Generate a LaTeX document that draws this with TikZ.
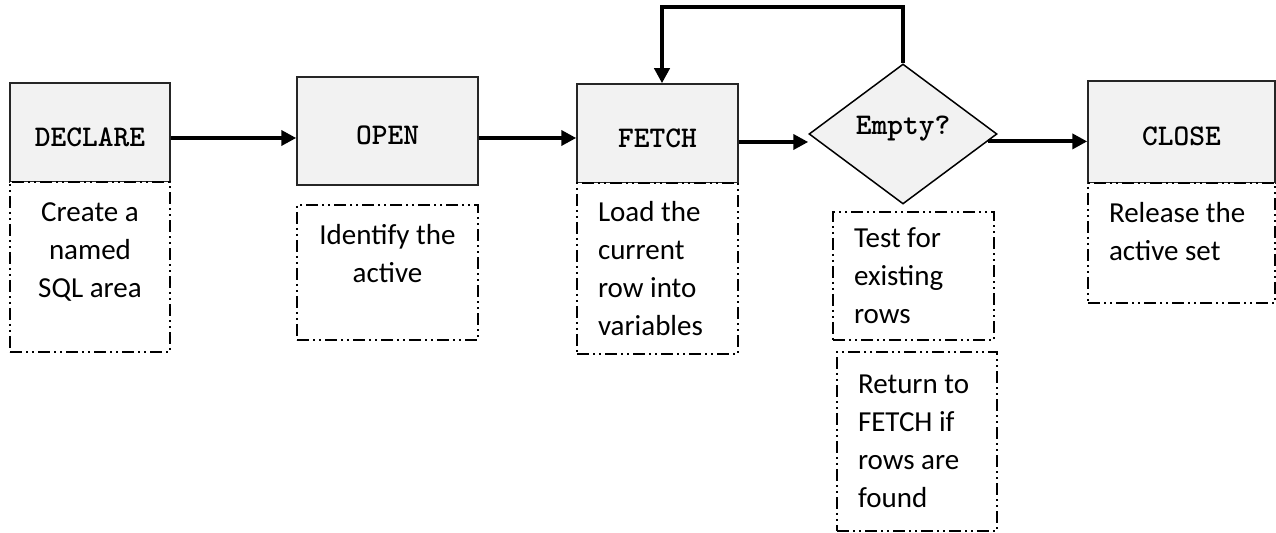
\documentclass[tikz,border=0pt]{standalone}
\usepackage{fontspec}
\setmainfont{Carlito}
\usetikzlibrary{arrows.meta,shapes.geometric}
\tikzset{
  titlebox/.style={draw=black!85, line width=0.75pt, fill=black!5, inner sep=0pt,
    font=\ttfamily\bfseries\fontsize{15}{17}\selectfont, text height=14pt, text depth=0pt},
  decision/.style={diamond, draw=black, line width=0.75pt, fill=black!5, inner sep=0pt,
    font=\ttfamily\bfseries\fontsize{15}{17}\selectfont, text depth=8.5pt},
  notebox/.style={draw=black, line width=0.8pt, fill=white, inner xsep=10.5pt, inner ysep=0pt,
    dash pattern=on 6pt off 2pt on 1pt off 2pt on 1pt off 2pt,
    font=\fontsize{14.5}{19}\selectfont},
  flow/.style={line width=2pt, -{Triangle[length=7.5pt,width=7.5pt]}}
}
\begin{document}
\begin{tikzpicture}[x=0.5pt,y=-0.5pt]
        \useasboundingbox (0,0) rectangle (1276,533);
        % steps
        \node[titlebox, minimum width=80pt, minimum height=49.5pt] (dec) at (90,132.5) {DECLARE};
        \node[titlebox, minimum width=90.5pt, minimum height=54pt] (open) at (387.5,131) {OPEN};
        \node[titlebox, minimum width=80.5pt, minimum height=49.5pt] (fetch) at (657.5,133.5) {FETCH};
        \node[decision, minimum width=94pt, minimum height=70pt] (empty) at (903,134) {Empty?};
        \node[titlebox, minimum width=93.5pt, minimum height=51pt] (close) at (1181.5,132) {CLOSE};
        % notes
        \node[notebox, minimum width=80pt, minimum height=85pt, text width=59pt, align=flush center] (decnote) at (90,267) {Create a\\named\\SQL area\\[-8pt]\strut};
        \node[notebox, minimum width=90.5pt, minimum height=67.5pt, text width=69.5pt, align=flush center] (opennote) at (387.5,272.5) {Identify the\\active\\[-6pt]\strut};
        \node[notebox, minimum width=80.5pt, minimum height=85.5pt, text width=59.5pt, align=flush left] (fetchnote) at (657.5,268.5) {Load the\\current\\row into\\variables};
        \node[notebox, minimum width=80.5pt, minimum height=64pt, text width=59.5pt, align=flush left] (testnote) at (913.5,276) {Test for\\existing\\rows};
        \node[notebox, minimum width=80pt, minimum height=89.5pt, text width=59pt, align=flush left] (returnnote) at (917,441.5) {Return to\\FETCH if\\rows are\\found};
        \node[notebox, minimum width=93.5pt, minimum height=60pt, text width=72.5pt, align=flush left] (closenote) at (1181.5,243) {Release the\\active set\\[-13pt]\strut};
        % flow
        \draw[flow] (dec.east |- 0,138) -- (open.west |- 0,138);
        \draw[flow] (open.east |- 0,138) -- (fetch.west |- 0,138);
        \draw[flow] (fetch.east |- 0,142) -- (empty.west |- 0,142);
        \draw[flow] (empty.-5.5) -- (empty.-5.5 -| close.west);
        \draw[flow] (empty.north) -- (empty.north |- 0,7) -| ([xshift=2.25pt]fetch.north);
    \end{tikzpicture}
\end{document}
